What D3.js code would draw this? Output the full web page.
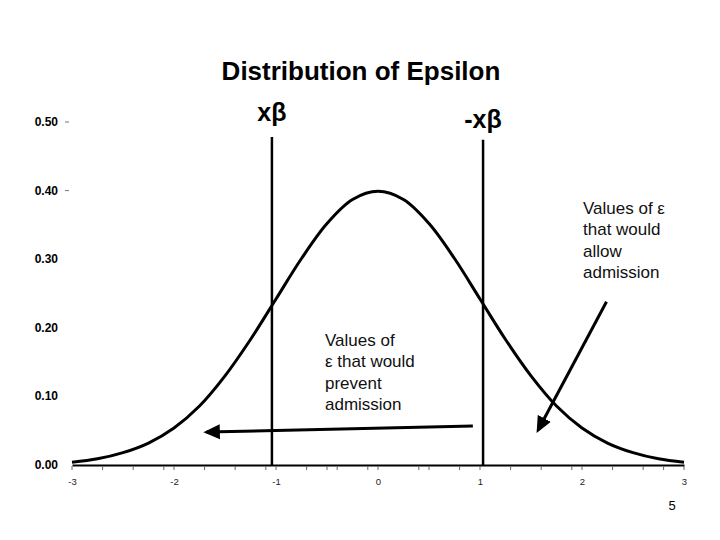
<!DOCTYPE html>
<html>
<head>
<meta charset="utf-8">
<script src="https://cdn.jsdelivr.net/npm/d3@7/dist/d3.min.js"></script>
<style>
  html, body { margin: 0; padding: 0; background: #fff; }
  svg { display: block; font-family: Arial, "Liberation Sans", sans-serif; }
</style>
</head>
<body>
<svg id="chart" width="720" height="540"></svg>
<script>
// ---- data ----
const epsilonX = [-3, -2.75, -2.5, -2.25, -2, -1.75, -1.5, -1.25, -1, -0.75, -0.5, -0.25, 0,
                  0.25, 0.5, 0.75, 1, 1.25, 1.5, 1.75, 2, 2.25, 2.5, 2.75, 3];
const density  = [0.004, 0.009, 0.018, 0.032, 0.054, 0.086, 0.130, 0.183, 0.242, 0.301, 0.352, 0.387, 0.399,
                  0.387, 0.352, 0.301, 0.242, 0.183, 0.130, 0.086, 0.054, 0.032, 0.018, 0.009, 0.004];
const xTicks = [-3, -2, -1, 0, 1, 2, 3];
const xTickLabels = ["-3", "-2", "-1", "0", "1", "2", "3"];
const xMinorTicks = [-2.7, -2.4, -2.1, -1.7, -1.4, -1.1, -0.7, -0.5, -0.4, -0.1, 0.4, 0.5, 0.8, 1.3, 1.6, 1.9, 2.3, 2.6, 2.8];
const yTicks = [0, 0.1, 0.2, 0.3, 0.4, 0.5];
const yTickLabels = ["0.00", "0.10", "0.20", "0.30", "0.40", "0.50"];
const yTickDashes = [0.4, 0.5];
const cutLines = [ { x: -1.04, top: 0.478, label: "xβ" }, { x: 1.03, top: 0.474, label: "-xβ" } ];
const arrows = [ { x1: 0.93, y1: 0.057, x2: -1.68, y2: 0.048 },
                 { x1: 2.24, y1: 0.238, x2: 1.57, y2: 0.051 } ];
const notePrevent = ["Values of", "ε that would", "prevent", "admission"];
const noteAllow = ["Values of ε", "that would", "allow", "admission"];
const title = "Distribution of Epsilon";
const pageNumber = "5";

// ---- layout ----
const svg = d3.select("#chart");
const x = d3.scaleLinear().domain([-3, 3]).range([72, 684]);
const y = d3.scaleLinear().domain([0, 0.5]).range([465, 122]);

svg.append("defs").append("marker")
  .attr("id", "arrowhead").attr("viewBox", "0 0 10 10")
  .attr("refX", 8).attr("refY", 5)
  .attr("markerWidth", 5.5).attr("markerHeight", 5.5)
  .attr("markerUnits", "strokeWidth")
  .attr("orient", "auto")
  .append("path").attr("d", "M0,0.5 L10,5 L0,9.5 Z").attr("fill", "#000");

// title
svg.append("text").attr("x", 361).attr("y", 80).attr("text-anchor", "middle")
  .attr("font-size", 26).attr("font-weight", "bold").text(title);

// y tick labels
svg.append("g").selectAll("text").data(yTicks).join("text")
  .attr("x", 58).attr("y", d => y(d) + 4).attr("text-anchor", "end")
  .attr("font-size", 12).attr("font-weight", "bold").text((d, i) => yTickLabels[i]);
svg.append("g").selectAll("line").data(yTickDashes).join("line")
  .attr("x1", 65).attr("x2", 69).attr("y1", d => y(d)).attr("y2", d => y(d))
  .attr("stroke", "#777").attr("stroke-width", 1);

// x axis
const xAxis = svg.append("g").attr("transform", `translate(0,${y(0)})`)
  .call(d3.axisBottom(x).tickValues(xTicks).tickFormat((d, i) => xTickLabels[i])
    .tickSize(0).tickPadding(13));
xAxis.select(".domain").attr("stroke", "#000").attr("stroke-width", 2);
xAxis.selectAll("text").attr("font-size", 9.5).attr("fill", "#222")
  .attr("font-family", "Arial, sans-serif");
svg.append("g").selectAll("line").data(xTicks.concat(xMinorTicks)).join("line")
  .attr("x1", d => x(d)).attr("x2", d => x(d))
  .attr("y1", y(0) + 1).attr("y2", y(0) + 5)
  .attr("stroke", "#666").attr("stroke-width", 1);

// curve
const pts = epsilonX.map((v, i) => [v, density[i]]);
svg.append("path").datum(pts)
  .attr("fill", "none").attr("stroke", "#000").attr("stroke-width", 3)
  .attr("d", d3.line().x(d => x(d[0])).y(d => y(d[1])).curve(d3.curveCatmullRom));

// cut lines
svg.append("g").selectAll("line").data(cutLines).join("line")
  .attr("x1", d => x(d.x)).attr("x2", d => x(d.x))
  .attr("y1", d => y(d.top)).attr("y2", y(0))
  .attr("stroke", "#000").attr("stroke-width", 2.5);
svg.append("g").selectAll("text").data(cutLines).join("text")
  .attr("x", d => x(d.x)).attr("y", (d, i) => i === 0 ? 121 : 128)
  .attr("text-anchor", "middle").attr("font-size", 25).attr("font-weight", "bold")
  .text(d => d.label);

// arrows
svg.append("g").selectAll("line").data(arrows).join("line")
  .attr("x1", d => x(d.x1)).attr("y1", d => y(d.y1))
  .attr("x2", d => x(d.x2)).attr("y2", d => y(d.y2))
  .attr("stroke", "#000").attr("stroke-width", 3)
  .attr("marker-end", "url(#arrowhead)");

// notes
function note(lines, x0, y0) {
  svg.append("g").selectAll("text").data(lines).join("text")
    .attr("x", x0).attr("y", (d, i) => y0 + i * 21.3)
    .attr("font-size", 17).attr("fill", "#111").text(d => d);
}
note(notePrevent, 325, 346);
note(noteAllow, 583, 214);

// page number
svg.append("text").attr("x", 672).attr("y", 510).attr("text-anchor", "middle")
  .attr("font-size", 13).text(pageNumber);
</script>
</body>
</html>
